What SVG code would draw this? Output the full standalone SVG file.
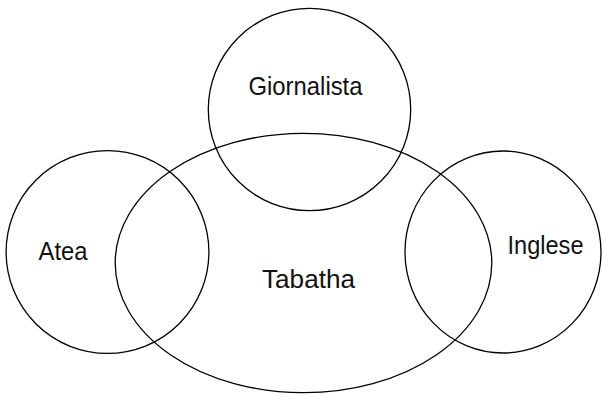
<svg xmlns="http://www.w3.org/2000/svg" width="602" height="394" viewBox="0 0 602 394">
<style>
.shape{fill:none;stroke:#000;stroke-width:1.3}
.lbl{font-family:"Liberation Sans","Open Sans",sans-serif;font-size:26px;fill:#111}
</style>
<rect width="602" height="394" fill="#fff"/>
<g id="giornalista"><circle class="shape" cx="309.5" cy="109.5" r="101.2"/><text class="lbl" x="248.5" y="95" textLength="114" lengthAdjust="spacingAndGlyphs">Giornalista</text></g>
<g id="tabatha"><ellipse class="shape" cx="303.5" cy="263" rx="188.3" ry="129.7"/><text class="lbl" x="262" y="288" textLength="93" lengthAdjust="spacingAndGlyphs">Tabatha</text></g>
<g id="atea"><circle class="shape" cx="107.5" cy="252" r="101.4"/><text class="lbl" x="38.5" y="260" textLength="49" lengthAdjust="spacingAndGlyphs">Atea</text></g>
<g id="inglese"><ellipse class="shape" cx="503" cy="252" rx="98" ry="101"/><text class="lbl" x="507.5" y="254" textLength="76" lengthAdjust="spacingAndGlyphs">Inglese</text></g>
<g id="connectors"></g>
</svg>
